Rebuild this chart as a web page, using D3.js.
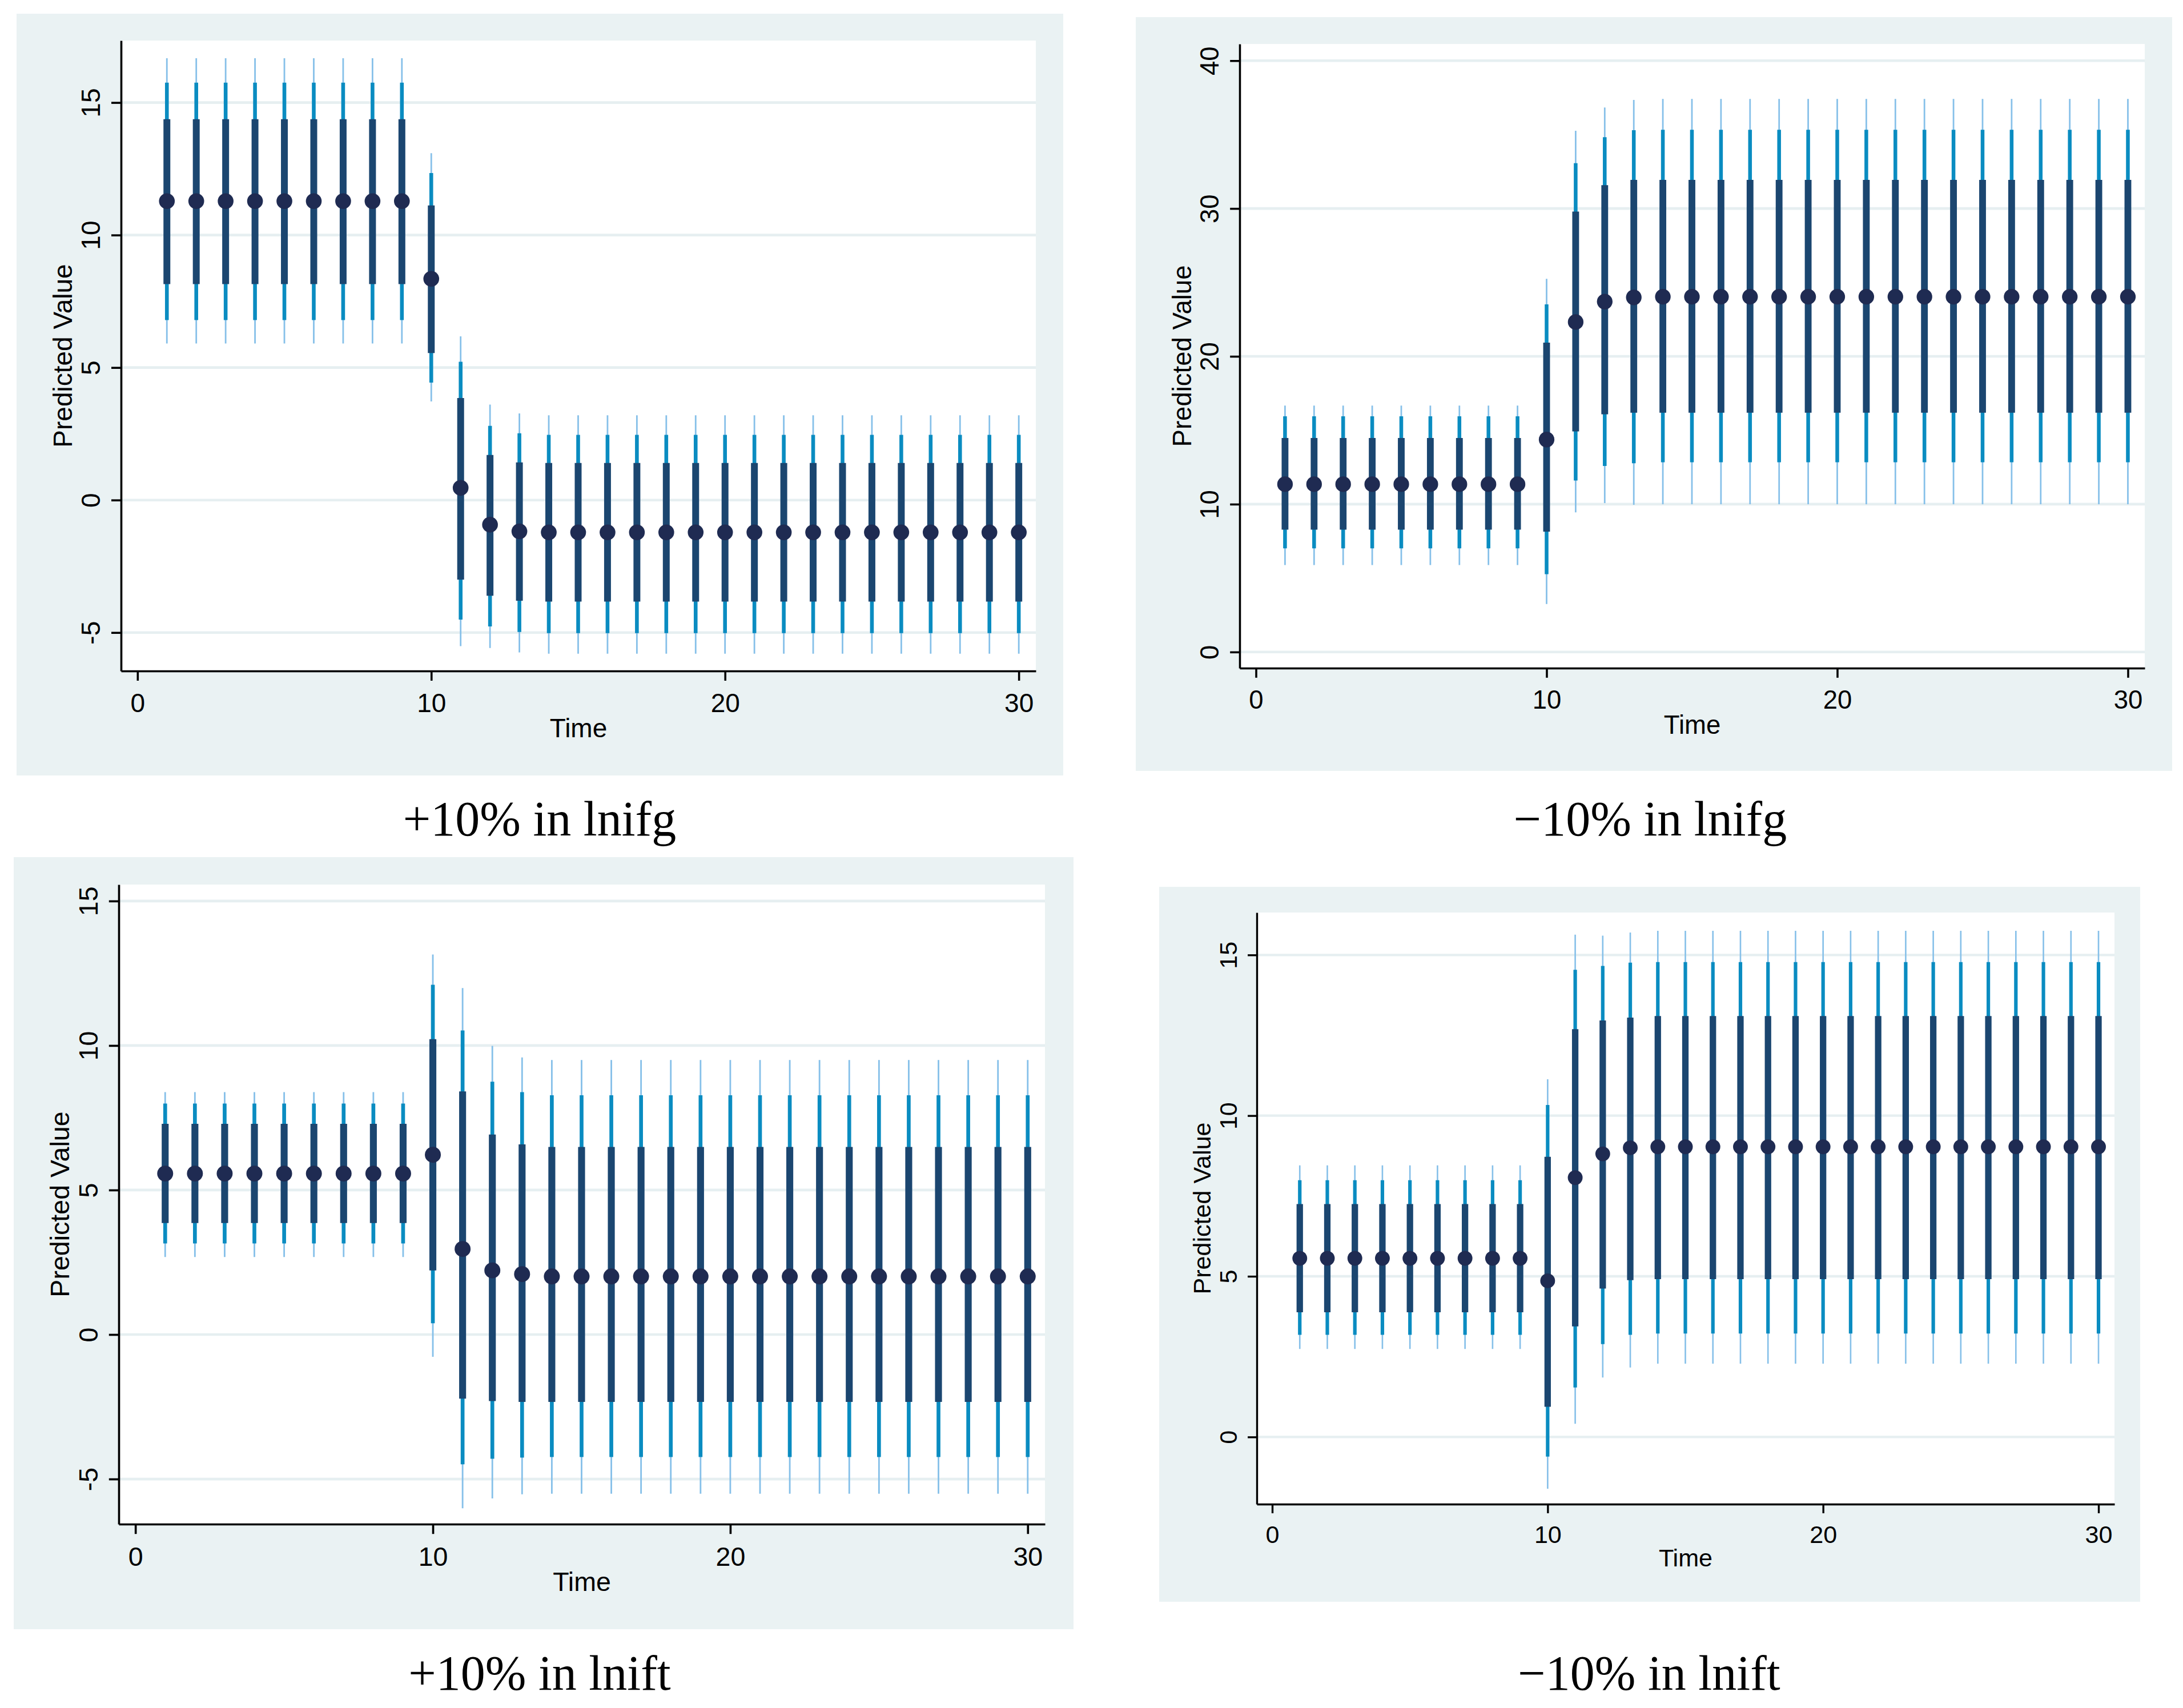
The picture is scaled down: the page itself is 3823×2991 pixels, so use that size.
<!DOCTYPE html>
<html>
<head>
<meta charset="utf-8">
<script src="https://cdn.jsdelivr.net/npm/d3@7"></script>
<style>
  body { margin: 0; background: #ffffff; }
</style>
</head>
<body>
<div id="main"></div>
<script>
/**
 * Predicted value by time, four shock scenarios (2x2 panels)
 */
const WIDTH = 3823;
const HEIGHT = 2991;
const BG = '#eaf2f3';
const GRID = '#e6eff1';
const COLORS = {
  outer: '#86c0e9',
  mid: '#0a8cc1',
  inner: '#1b4670',
  dot: '#1f2b52'
};

/**
 * Data
 */
const time = [1, 2, 3, 4, 5, 6, 7, 8, 9, 10, 11, 12, 13, 14, 15, 16, 17, 18, 19, 20, 21, 22, 23, 24, 25, 26, 27, 28, 29, 30];
const xTicks = [0, 10, 20, 30];

// +10% in lnifg
const ifgUpEst = [11.28, 11.28, 11.28, 11.28, 11.28, 11.28, 11.28, 11.28, 11.28, 8.35, 0.46, -0.93, -1.18, -1.22, -1.22, -1.22, -1.22, -1.22, -1.22, -1.22, -1.22, -1.22, -1.22, -1.22, -1.22, -1.22, -1.22, -1.22, -1.22, -1.22];
const ifgUpInLo = [8.15, 8.15, 8.15, 8.15, 8.15, 8.15, 8.15, 8.15, 8.15, 5.55, -3.00, -3.61, -3.80, -3.83, -3.83, -3.83, -3.83, -3.83, -3.83, -3.83, -3.83, -3.83, -3.83, -3.83, -3.83, -3.83, -3.83, -3.83, -3.83, -3.83];
const ifgUpInHi = [14.37, 14.37, 14.37, 14.37, 14.37, 14.37, 14.37, 14.37, 14.37, 11.12, 3.85, 1.70, 1.42, 1.40, 1.40, 1.40, 1.40, 1.40, 1.40, 1.40, 1.40, 1.40, 1.40, 1.40, 1.40, 1.40, 1.40, 1.40, 1.40, 1.40];
const ifgUpMidLo = [6.79, 6.79, 6.79, 6.79, 6.79, 6.79, 6.79, 6.79, 6.79, 4.43, -4.51, -4.77, -4.98, -5.02, -5.02, -5.02, -5.02, -5.02, -5.02, -5.02, -5.02, -5.02, -5.02, -5.02, -5.02, -5.02, -5.02, -5.02, -5.02, -5.02];
const ifgUpMidHi = [15.75, 15.75, 15.75, 15.75, 15.75, 15.75, 15.75, 15.75, 15.75, 12.34, 5.22, 2.80, 2.52, 2.46, 2.46, 2.46, 2.46, 2.46, 2.46, 2.46, 2.46, 2.46, 2.46, 2.46, 2.46, 2.46, 2.46, 2.46, 2.46, 2.46];
const ifgUpOutLo = [5.91, 5.91, 5.91, 5.91, 5.91, 5.91, 5.91, 5.91, 5.91, 3.72, -5.51, -5.58, -5.75, -5.80, -5.80, -5.80, -5.80, -5.80, -5.80, -5.80, -5.80, -5.80, -5.80, -5.80, -5.80, -5.80, -5.80, -5.80, -5.80, -5.80];
const ifgUpOutHi = [16.67, 16.67, 16.67, 16.67, 16.67, 16.67, 16.67, 16.67, 16.67, 13.09, 6.18, 3.60, 3.27, 3.20, 3.20, 3.20, 3.20, 3.20, 3.20, 3.20, 3.20, 3.20, 3.20, 3.20, 3.20, 3.20, 3.20, 3.20, 3.20, 3.20];

// -10% in lnifg
const ifgDownEst = [11.35, 11.35, 11.35, 11.35, 11.35, 11.35, 11.35, 11.35, 11.35, 14.37, 22.32, 23.70, 23.99, 24.03, 24.03, 24.03, 24.03, 24.03, 24.03, 24.03, 24.03, 24.03, 24.03, 24.03, 24.03, 24.03, 24.03, 24.03, 24.03, 24.03];
const ifgDownInLo = [8.28, 8.28, 8.28, 8.28, 8.28, 8.28, 8.28, 8.28, 8.28, 8.14, 14.92, 16.08, 16.19, 16.19, 16.19, 16.19, 16.19, 16.19, 16.19, 16.19, 16.19, 16.19, 16.19, 16.19, 16.19, 16.19, 16.19, 16.19, 16.19, 16.19];
const ifgDownInHi = [14.48, 14.48, 14.48, 14.48, 14.48, 14.48, 14.48, 14.48, 14.48, 20.93, 29.79, 31.58, 31.94, 31.94, 31.94, 31.94, 31.94, 31.94, 31.94, 31.94, 31.94, 31.94, 31.94, 31.94, 31.94, 31.94, 31.94, 31.94, 31.94, 31.94];
const ifgDownMidLo = [7.01, 7.01, 7.01, 7.01, 7.01, 7.01, 7.01, 7.01, 7.01, 5.26, 11.60, 12.58, 12.77, 12.84, 12.84, 12.84, 12.84, 12.84, 12.84, 12.84, 12.84, 12.84, 12.84, 12.84, 12.84, 12.84, 12.84, 12.84, 12.84, 12.84];
const ifgDownMidHi = [15.94, 15.94, 15.94, 15.94, 15.94, 15.94, 15.94, 15.94, 15.94, 23.52, 33.07, 34.82, 35.30, 35.33, 35.33, 35.33, 35.33, 35.33, 35.33, 35.33, 35.33, 35.33, 35.33, 35.33, 35.33, 35.33, 35.33, 35.33, 35.33, 35.33];
const ifgDownOutLo = [5.88, 5.88, 5.88, 5.88, 5.88, 5.88, 5.88, 5.88, 5.88, 3.25, 9.45, 10.07, 9.96, 10.00, 10.00, 10.00, 10.00, 10.00, 10.00, 10.00, 10.00, 10.00, 10.00, 10.00, 10.00, 10.00, 10.00, 10.00, 10.00, 10.00];
const ifgDownOutHi = [16.67, 16.67, 16.67, 16.67, 16.67, 16.67, 16.67, 16.67, 16.67, 25.24, 35.26, 36.83, 37.34, 37.41, 37.41, 37.41, 37.41, 37.41, 37.41, 37.41, 37.41, 37.41, 37.41, 37.41, 37.41, 37.41, 37.41, 37.41, 37.41, 37.41];

// +10% in lnift
const iftUpEst = [5.57, 5.57, 5.57, 5.57, 5.57, 5.57, 5.57, 5.57, 5.57, 6.22, 2.96, 2.22, 2.09, 2.01, 2.01, 2.01, 2.01, 2.01, 2.01, 2.01, 2.01, 2.01, 2.01, 2.01, 2.01, 2.01, 2.01, 2.01, 2.01, 2.01];
const iftUpInLo = [3.86, 3.86, 3.86, 3.86, 3.86, 3.86, 3.86, 3.86, 3.86, 2.22, -2.22, -2.30, -2.33, -2.33, -2.33, -2.33, -2.33, -2.33, -2.33, -2.33, -2.33, -2.33, -2.33, -2.33, -2.33, -2.33, -2.33, -2.33, -2.33, -2.33];
const iftUpInHi = [7.29, 7.29, 7.29, 7.29, 7.29, 7.29, 7.29, 7.29, 7.29, 10.22, 8.41, 6.92, 6.58, 6.49, 6.49, 6.49, 6.49, 6.49, 6.49, 6.49, 6.49, 6.49, 6.49, 6.49, 6.49, 6.49, 6.49, 6.49, 6.49, 6.49];
const iftUpMidLo = [3.15, 3.15, 3.15, 3.15, 3.15, 3.15, 3.15, 3.15, 3.15, 0.39, -4.49, -4.30, -4.26, -4.24, -4.24, -4.24, -4.24, -4.24, -4.24, -4.24, -4.24, -4.24, -4.24, -4.24, -4.24, -4.24, -4.24, -4.24, -4.24, -4.24];
const iftUpMidHi = [7.99, 7.99, 7.99, 7.99, 7.99, 7.99, 7.99, 7.99, 7.99, 12.10, 10.52, 8.75, 8.39, 8.28, 8.28, 8.28, 8.28, 8.28, 8.28, 8.28, 8.28, 8.28, 8.28, 8.28, 8.28, 8.28, 8.28, 8.28, 8.28, 8.28];
const iftUpOutLo = [2.68, 2.68, 2.68, 2.68, 2.68, 2.68, 2.68, 2.68, 2.68, -0.77, -6.01, -5.67, -5.53, -5.51, -5.51, -5.51, -5.51, -5.51, -5.51, -5.51, -5.51, -5.51, -5.51, -5.51, -5.51, -5.51, -5.51, -5.51, -5.51, -5.51];
const iftUpOutHi = [8.39, 8.39, 8.39, 8.39, 8.39, 8.39, 8.39, 8.39, 8.39, 13.15, 11.99, 9.99, 9.59, 9.50, 9.50, 9.50, 9.50, 9.50, 9.50, 9.50, 9.50, 9.50, 9.50, 9.50, 9.50, 9.50, 9.50, 9.50, 9.50, 9.50];

// -10% in lnift
const iftDownEst = [5.56, 5.56, 5.56, 5.56, 5.56, 5.56, 5.56, 5.56, 5.56, 4.86, 8.07, 8.81, 9.00, 9.03, 9.03, 9.03, 9.03, 9.03, 9.03, 9.03, 9.03, 9.03, 9.03, 9.03, 9.03, 9.03, 9.03, 9.03, 9.03, 9.03];
const iftDownInLo = [3.88, 3.88, 3.88, 3.88, 3.88, 3.88, 3.88, 3.88, 3.88, 0.94, 3.44, 4.62, 4.88, 4.91, 4.91, 4.91, 4.91, 4.91, 4.91, 4.91, 4.91, 4.91, 4.91, 4.91, 4.91, 4.91, 4.91, 4.91, 4.91, 4.91];
const iftDownInHi = [7.25, 7.25, 7.25, 7.25, 7.25, 7.25, 7.25, 7.25, 7.25, 8.72, 12.69, 12.96, 13.05, 13.10, 13.10, 13.10, 13.10, 13.10, 13.10, 13.10, 13.10, 13.10, 13.10, 13.10, 13.10, 13.10, 13.10, 13.10, 13.10, 13.10];
const iftDownMidLo = [3.18, 3.18, 3.18, 3.18, 3.18, 3.18, 3.18, 3.18, 3.18, -0.61, 1.54, 2.89, 3.18, 3.22, 3.22, 3.22, 3.22, 3.22, 3.22, 3.22, 3.22, 3.22, 3.22, 3.22, 3.22, 3.22, 3.22, 3.22, 3.22, 3.22];
const iftDownMidHi = [7.99, 7.99, 7.99, 7.99, 7.99, 7.99, 7.99, 7.99, 7.99, 10.33, 14.54, 14.66, 14.76, 14.78, 14.78, 14.78, 14.78, 14.78, 14.78, 14.78, 14.78, 14.78, 14.78, 14.78, 14.78, 14.78, 14.78, 14.78, 14.78, 14.78];
const iftDownOutLo = [2.74, 2.74, 2.74, 2.74, 2.74, 2.74, 2.74, 2.74, 2.74, -1.61, 0.41, 1.85, 2.16, 2.28, 2.28, 2.28, 2.28, 2.28, 2.28, 2.28, 2.28, 2.28, 2.28, 2.28, 2.28, 2.28, 2.28, 2.28, 2.28, 2.28];
const iftDownOutHi = [8.45, 8.45, 8.45, 8.45, 8.45, 8.45, 8.45, 8.45, 8.45, 11.13, 15.63, 15.60, 15.70, 15.75, 15.75, 15.75, 15.75, 15.75, 15.75, 15.75, 15.75, 15.75, 15.75, 15.75, 15.75, 15.75, 15.75, 15.75, 15.75, 15.75];

/**
 * Panel setup (layout lives here, values above)
 */
const panels = [
  {
    title: '+10% in lnifg',
    est: ifgUpEst,
    bands: [[ifgUpOutLo, ifgUpOutHi], [ifgUpMidLo, ifgUpMidHi], [ifgUpInLo, ifgUpInHi]],
    yTicks: [-5, 0, 5, 10, 15],
    yDomain: [-6.45, 17.34],
    bg: [29, 24, 1862, 1358],
    plot: [212, 71, 1814, 1175],
    titlePos: [945, 1463]
  },
  {
    title: '\u221210% in lnifg',
    est: ifgDownEst,
    bands: [[ifgDownOutLo, ifgDownOutHi], [ifgDownMidLo, ifgDownMidHi], [ifgDownInLo, ifgDownInHi]],
    yTicks: [0, 10, 20, 30, 40],
    yDomain: [-1.09, 41.13],
    bg: [1989, 30, 3804, 1350],
    plot: [2171, 77, 3756, 1170],
    titlePos: [2890, 1463]
  },
  {
    title: '+10% in lnift',
    est: iftUpEst,
    bands: [[iftUpOutLo, iftUpOutHi], [iftUpMidLo, iftUpMidHi], [iftUpInLo, iftUpInHi]],
    yTicks: [-5, 0, 5, 10, 15],
    yDomain: [-6.56, 15.57],
    bg: [24, 1501, 1880, 2853],
    plot: [208, 1549, 1830, 2669],
    titlePos: [945, 2959]
  },
  {
    title: '\u221210% in lnift',
    est: iftDownEst,
    bands: [[iftDownOutLo, iftDownOutHi], [iftDownMidLo, iftDownMidHi], [iftDownInLo, iftDownInHi]],
    yTicks: [0, 5, 10, 15],
    yDomain: [-2.09, 16.32],
    bg: [2030, 1553, 3748, 2805],
    plot: [2201, 1598, 3703, 2634],
    titlePos: [2888, 2959]
  }
];

const X_DOMAIN = [-0.56, 30.58];
const BAND_STYLE = [
  { color: COLORS.outer, width: 2.8 },
  { color: COLORS.mid, width: 6.6 },
  { color: COLORS.inner, width: 12 }
];

// Stata prints a plain hyphen for negatives
const plainNum = d => String(d);

function getSvg() {
  return d3.select('#main')
    .append('svg')
    .attr('width', WIDTH)
    .attr('height', HEIGHT)
    .attr('viewBox', [0, 0, WIDTH, HEIGHT]);
}

function renderPanel(svg, p) {
  const [pl, pt, pr, pb] = p.plot;
  const k = (pr - pl) / 1602; // panels were exported at slightly different scales
  const g = svg.append('g');

  g.append('rect')
    .attr('x', p.bg[0]).attr('y', p.bg[1])
    .attr('width', p.bg[2] - p.bg[0]).attr('height', p.bg[3] - p.bg[1])
    .attr('fill', BG);

  g.append('rect')
    .attr('x', pl).attr('y', pt)
    .attr('width', pr - pl).attr('height', pb - pt)
    .attr('fill', '#ffffff');

  const x = d3.scaleLinear().domain(X_DOMAIN).range([pl, pr]);
  const y = d3.scaleLinear().domain(p.yDomain).range([pb, pt]);

  // gridlines
  g.selectAll('.grid')
    .data(p.yTicks)
    .join('line')
    .attr('class', 'grid')
    .attr('x1', pl).attr('x2', pr)
    .attr('y1', d => y(d)).attr('y2', d => y(d))
    .attr('stroke', GRID)
    .attr('stroke-width', 4.6 * k);

  // interval bars, widest first
  p.bands.forEach(([lo, hi], i) => {
    g.selectAll('.band' + i)
      .data(time)
      .join('line')
      .attr('class', 'band' + i)
      .attr('x1', d => x(d)).attr('x2', d => x(d))
      .attr('y1', (d, j) => y(lo[j]))
      .attr('y2', (d, j) => y(hi[j]))
      .attr('stroke', BAND_STYLE[i].color)
      .attr('stroke-width', BAND_STYLE[i].width * k);
  });

  g.selectAll('.dot')
    .data(time)
    .join('circle')
    .attr('class', 'dot')
    .attr('cx', d => x(d))
    .attr('cy', (d, j) => y(p.est[j]))
    .attr('r', 13.8 * k)
    .attr('fill', COLORS.dot);

  const font = `${46 * k}px "Liberation Sans", Arial, sans-serif`;

  // y axis
  const yAxis = g.append('g')
    .attr('transform', `translate(${pl},0)`)
    .call(d3.axisLeft(y).tickValues(p.yTicks).tickFormat(plainNum).tickSize(17 * k).tickSizeOuter(0));
  yAxis.selectAll('text')
    .attr('transform', 'rotate(-90)')
    .attr('x', 0)
    .attr('y', -37 * k)
    .attr('dy', 0)
    .attr('text-anchor', 'middle')
    .style('font', font)
    .attr('fill', '#000');

  // x axis
  const xAxis = g.append('g')
    .attr('transform', `translate(0,${pb})`)
    .call(d3.axisBottom(x).tickValues(xTicks).tickFormat(plainNum).tickSize(17 * k).tickSizeOuter(0));
  xAxis.selectAll('text')
    .attr('y', 72 * k)
    .attr('dy', 0)
    .style('font', font)
    .attr('fill', '#000');

  [yAxis, xAxis].forEach(a => {
    a.select('.domain').attr('stroke', '#000').attr('stroke-width', 3.6 * k);
    a.selectAll('.tick line').attr('stroke', '#000').attr('stroke-width', 3.6 * k);
  });

  // axis titles
  g.append('text')
    .attr('transform', `translate(${pl - 86 * k},${(pt + pb) / 2}) rotate(-90)`)
    .attr('text-anchor', 'middle')
    .style('font', font)
    .text('Predicted Value');

  g.append('text')
    .attr('x', (pl + pr) / 2)
    .attr('y', pb + 116 * k)
    .attr('text-anchor', 'middle')
    .style('font', font)
    .text('Time');

  // caption under the graph
  svg.append('text')
    .attr('x', p.titlePos[0])
    .attr('y', p.titlePos[1])
    .attr('text-anchor', 'middle')
    .style('font', '86px "Liberation Serif", "Times New Roman", serif')
    .attr('fill', '#000')
    .text(p.title);
}

const svg = getSvg();
panels.forEach(p => renderPanel(svg, p));
</script>
</body>
</html>
